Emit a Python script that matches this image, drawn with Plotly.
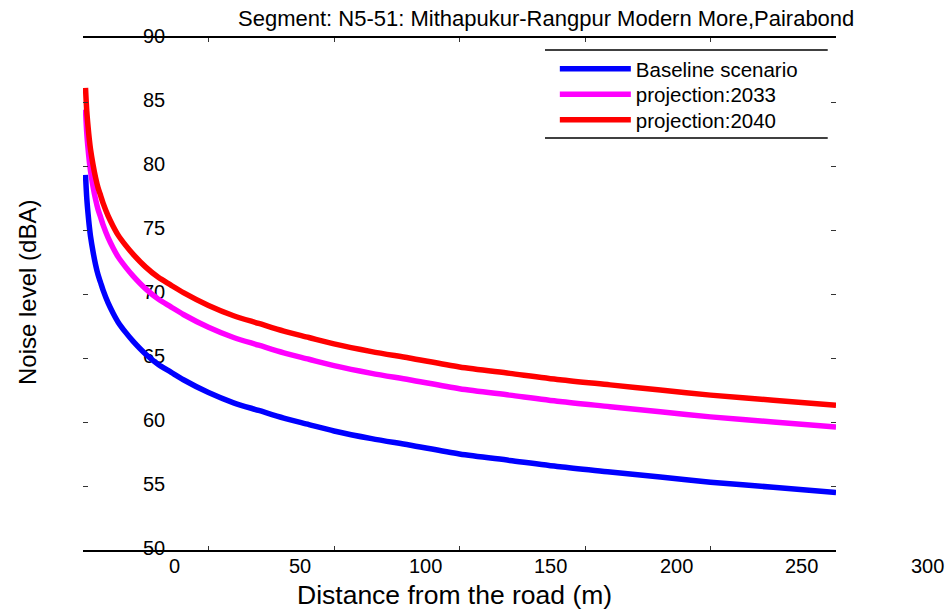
import plotly.graph_objects as go

# Distance from the road (m)
distance = [1, 1.5, 2, 2.5, 3, 4, 5, 6, 7, 8, 10, 12, 14, 17, 20, 25, 30, 35, 40,
            50, 60, 70, 80, 90, 100, 115, 130, 150, 170, 190, 210, 230, 250, 275, 300]

# Noise level (dBA) for each scenario
baseline = [79.3, 77.5, 76.3, 75.3, 74.5, 73.3, 72.3, 71.5, 70.9, 70.3, 69.3, 68.5,
            67.8, 67.0, 66.3, 65.3, 64.5, 63.9, 63.3, 62.3, 61.5, 60.9, 60.3, 59.8,
            59.3, 58.7, 58.2, 57.5, 57.0, 56.5, 56.1, 55.7, 55.3, 54.9, 54.5]
proj_2033 = [84.4, 82.6, 81.4, 80.4, 79.6, 78.4, 77.4, 76.6, 76.0, 75.4, 74.4, 73.6,
             72.9, 72.1, 71.4, 70.4, 69.6, 69.0, 68.4, 67.4, 66.6, 66.0, 65.4, 64.9,
             64.4, 63.8, 63.3, 62.6, 62.1, 61.6, 61.2, 60.8, 60.4, 60.0, 59.6]
proj_2040 = [86.1, 84.3, 83.1, 82.1, 81.3, 80.1, 79.1, 78.3, 77.7, 77.1, 76.1, 75.3,
             74.6, 73.8, 73.1, 72.1, 71.3, 70.7, 70.1, 69.1, 68.3, 67.7, 67.1, 66.6,
             66.1, 65.5, 65.0, 64.3, 63.8, 63.3, 62.9, 62.5, 62.1, 61.7, 61.3]

series_names = ["Baseline scenario", "projection:2033", "projection:2040"]
series_colors = ["#0000FF", "#FF00FF", "#FF0000"]

x_ticks = [0, 50, 100, 150, 200, 250, 300]
y_ticks = [50, 55, 60, 65, 70, 75, 80, 85, 90]

FONT = "Liberation Sans, Arial, Helvetica, sans-serif"
Y_LABEL_X = 28.3      # data-x where the y tick labels sit (inside the box)
X_LABEL_SHIFT = 91    # px offset of x tick labels from their ticks

# one single-entry legend per series, stacked down the upper-right corner
LEGEND_IDS = ["legend", "legend2", "legend3"]
LEGEND_ROWS = [0.9395, 0.8896, 0.8398]

fig = go.Figure()

# y tick labels drawn as text in the plot layer so the curves pass over them
fig.add_trace(go.Scatter(
    x=[Y_LABEL_X] * len(y_ticks), y=y_ticks, text=[str(v) for v in y_ticks],
    mode="text", textfont=dict(family=FONT, size=20, color="black"),
    showlegend=False, hoverinfo="skip", cliponaxis=False,
))

for name, color, vals, leg in zip(series_names, series_colors,
                                  [baseline, proj_2033, proj_2040], LEGEND_IDS):
    fig.add_trace(go.Scatter(
        x=distance, y=vals, mode="lines", name=name, legend=leg,
        line=dict(color=color, width=5.5, shape="spline", smoothing=0.8),
    ))

annotations = []
for v in x_ticks:
    annotations.append(dict(
        x=v, y=0, xref="x", yref="paper", text=str(v), showarrow=False,
        xshift=X_LABEL_SHIFT, yshift=-16, yanchor="middle",
        font=dict(family=FONT, size=20, color="black"),
    ))
annotations += [
    dict(x=0.615, y=1.039, xref="paper", yref="paper", showarrow=False,
         text="Segment: N5-51: Mithapukur-Rangpur Modern More,Pairabond",
         xanchor="center", yanchor="middle",
         font=dict(family=FONT, size=22, color="black")),
    dict(x=0.494, y=-0.088, xref="paper", yref="paper", showarrow=False,
         text="Distance from the road (m)", xanchor="center", yanchor="middle",
         font=dict(family=FONT, size=26.5, color="black")),
    dict(x=-0.073, y=0.502, xref="paper", yref="paper", showarrow=False,
         text="Noise level (dBA)", textangle=-90, xanchor="center",
         yanchor="middle", font=dict(family=FONT, size=24, color="black")),
]

# legend frame: top and bottom rules only
legend_rules = [
    dict(type="line", xref="paper", yref="paper", x0=0.6135, x1=0.989,
         y0=0.9766, y1=0.9766, line=dict(color="black", width=1.5)),
    dict(type="line", xref="paper", yref="paper", x0=0.6135, x1=0.989,
         y0=0.8047, y1=0.8047, line=dict(color="black", width=1.5)),
]

legend_style = dict(x=0.6266, xanchor="left", yanchor="middle",
                    bgcolor="rgba(0,0,0,0)", borderwidth=0, itemwidth=71,
                    font=dict(family=FONT, size=20.5, color="black"))

fig.update_layout(
    width=952, height=611,
    margin=dict(l=83, r=116, t=38, b=61),
    paper_bgcolor="white", plot_bgcolor="white",
    font=dict(family=FONT, color="black"),
    showlegend=True,
    legend=dict(y=LEGEND_ROWS[0], **legend_style),
    legend2=dict(y=LEGEND_ROWS[1], **legend_style),
    legend3=dict(y=LEGEND_ROWS[2], **legend_style),
    annotations=annotations,
    shapes=legend_rules,
    xaxis=dict(range=[0, 300], tickvals=x_ticks, showticklabels=False,
               ticks="inside", ticklen=4, tickwidth=1, tickcolor="#333",
               mirror="allticks", showline=True, linecolor="black",
               linewidth=1.5, showgrid=False, zeroline=False),
    yaxis=dict(range=[50, 90], tickvals=y_ticks, showticklabels=False,
               ticks="inside", ticklen=5, tickwidth=1, tickcolor="#333",
               mirror="allticks", showline=False, showgrid=False,
               zeroline=False),
)

fig.write_html("out.html")
